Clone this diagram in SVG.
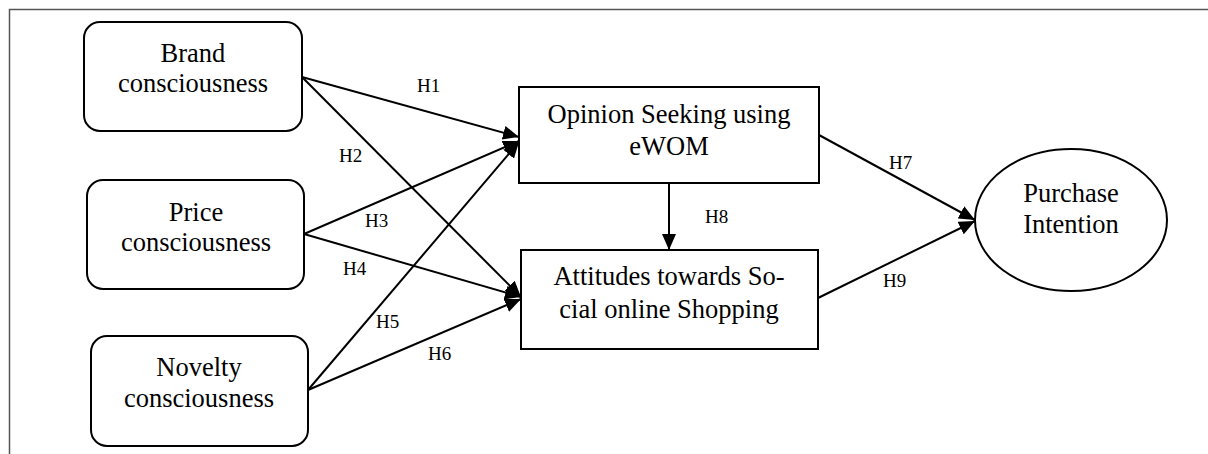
<svg xmlns="http://www.w3.org/2000/svg" width="1208" height="454" viewBox="0 0 1208 454">
<style>
.box{fill:#fff;stroke:#000;stroke-width:2}
.t{font-family:"Liberation Serif","Times New Roman",serif;font-size:26.5px;fill:#000;text-anchor:middle}
.h{font-family:"Liberation Serif","Times New Roman",serif;font-size:19px;fill:#000}
.c{stroke:#000;stroke-width:2;fill:none;marker-end:url(#ah)}
</style>
<defs>
<marker id="ah" viewBox="0 0 16 14" refX="16" refY="7" markerWidth="16" markerHeight="14" markerUnits="userSpaceOnUse" orient="auto">
<path d="M0,0 L16,7 L0,14 z" fill="#000"/>
</marker>
</defs>
<rect width="1208" height="454" fill="#fff"/>
<path d="M9.5,454 V9.5 H1208" fill="none" stroke="#555" stroke-width="1.5"/>
<g id="connectors">
<line class="c" x1="302" y1="77" x2="519" y2="137"/>
<line class="c" x1="302" y1="77" x2="521" y2="297"/>
<line class="c" x1="304" y1="234" x2="519" y2="141"/>
<line class="c" x1="304" y1="234" x2="521" y2="297"/>
<line class="c" x1="308" y1="390" x2="519" y2="142"/>
<line class="c" x1="308" y1="390" x2="521" y2="299"/>
<line class="c" x1="669" y1="183" x2="669" y2="250"/>
<line class="c" x1="819" y1="135" x2="975" y2="220"/>
<line class="c" x1="818" y1="298" x2="975" y2="221"/>
<text class="h" x="417" y="92">H1</text>
<text class="h" x="339" y="162">H2</text>
<text class="h" x="365" y="227">H3</text>
<text class="h" x="343" y="275">H4</text>
<text class="h" x="376" y="328">H5</text>
<text class="h" x="428" y="360">H6</text>
<text class="h" x="889" y="169">H7</text>
<text class="h" x="705" y="223">H8</text>
<text class="h" x="883" y="287">H9</text>
</g>
<g id="brand">
<rect class="box" x="84" y="22" width="218" height="109" rx="16"/>
<text class="t" x="193" y="62">Brand</text>
<text class="t" x="193" y="92">consciousness</text>
</g>
<g id="price">
<rect class="box" x="87" y="180" width="217" height="109" rx="16"/>
<text class="t" x="196" y="221">Price</text>
<text class="t" x="196" y="251">consciousness</text>
</g>
<g id="novelty">
<rect class="box" x="91" y="336" width="217" height="110" rx="16"/>
<text class="t" x="199" y="376">Novelty</text>
<text class="t" x="199" y="407">consciousness</text>
</g>
<g id="opinion">
<rect class="box" x="519" y="87" width="300" height="96"/>
<text class="t" x="669" y="123">Opinion Seeking using</text>
<text class="t" x="669" y="155">eWOM</text>
</g>
<g id="attitudes">
<rect class="box" x="521" y="250" width="297" height="99"/>
<text class="t" x="669" y="285">Attitudes towards So-</text>
<text class="t" x="669" y="318">cial online Shopping</text>
</g>
<g id="purchase">
<ellipse class="box" cx="1071" cy="220" rx="96" ry="71"/>
<text class="t" x="1071" y="202">Purchase</text>
<text class="t" x="1071" y="233">Intention</text>
</g>
</svg>
